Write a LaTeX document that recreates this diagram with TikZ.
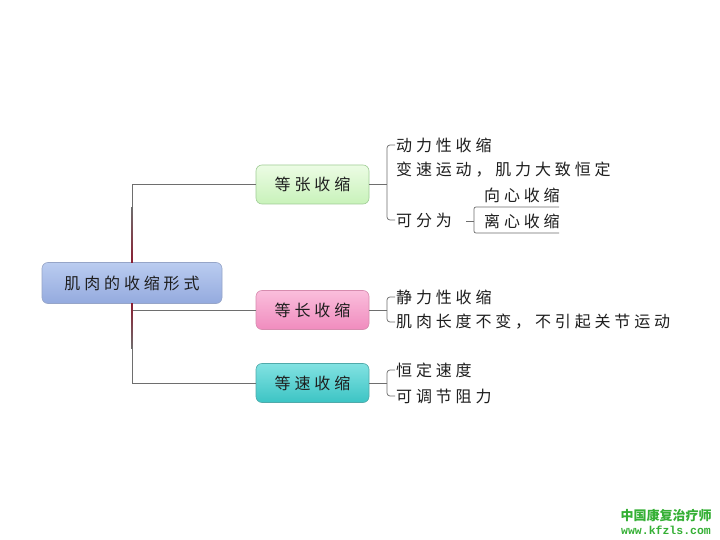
\documentclass[tikz,border=0pt]{standalone}
\usepackage{fontspec}
\newfontfamily\cjk{Noto Sans CJK SC}[LetterSpace=24]
\newfontfamily\cjkplain{Noto Sans CJK SC}
\newfontfamily\wmono{Liberation Mono}
\usetikzlibrary{calc}
\definecolor{txt}{HTML}{1E1E1E}
\definecolor{lin}{HTML}{6E6E6E}
\definecolor{trunkred}{HTML}{8A1E32}
\definecolor{wm}{HTML}{35B035}
\tikzset{
  topic/.style={rounded corners=6pt, minimum width=113pt, minimum height=39pt, inner sep=0pt,
    font=\cjk\fontsize{16}{18}\selectfont, text=txt, line width=0.6pt},
  leaf/.style={anchor=west, inner sep=0pt, font=\cjk\fontsize{16}{18}\selectfont, text=txt},
  conn/.style={draw=lin, line width=0.9pt},
  brk/.style={draw=lin, line width=0.7pt, rounded corners=3pt},
}
\begin{document}
\begin{tikzpicture}[x=1pt,y=-1pt]
\useasboundingbox[fill=white] (0,0) rectangle (720,540);
% main topic
\node[topic, minimum width=180pt, minimum height=41pt, top color={rgb,255:red,186;green,204;blue,240}, bottom color={rgb,255:red,148;green,170;blue,222}, draw={rgb,255:red,150;green,165;blue,200}] (root) at (132,283) {肌肉的收缩形式};
% subtopics
\node[topic, top color={rgb,255:red,236;green,252;blue,228}, bottom color={rgb,255:red,200;green,242;blue,186}, draw={rgb,255:red,160;green,205;blue,150}] (zh) at (312.5,184.5) {等张收缩};
\node[topic, top color={rgb,255:red,250;green,190;blue,220}, bottom color={rgb,255:red,240;green,140;blue,190}, draw={rgb,255:red,215;green,140;blue,175}] (zc) at (312.5,310) {等长收缩};
\node[topic, top color={rgb,255:red,130;green,226;blue,226}, bottom color={rgb,255:red,60;green,196;blue,196}, draw={rgb,255:red,80;green,170;blue,170}] (zs) at (312.5,383) {等速收缩};
% trunk connectors
\draw[conn] (root.north) |- (zh.west);
\draw[conn] (root.south) |- (zc.west);
\draw[conn] (root.south) |- (zs.west);
\shade[top color=lin, bottom color=trunkred] ($(root.north)+(-0.9,-55)$) rectangle ($(root.north)+(0.9,0)$);
\shade[top color=trunkred, bottom color=lin] ($(root.south)+(-0.9,0)$) rectangle ($(root.south)+(0.9,45)$);
% leaves of 等张收缩
\node[leaf] (a1) at (396,145) {动力性收缩};
\node[leaf] (a2) at (396,170) {变速运动，肌力大致恒定};
\node[leaf] (a3) at (396,220) {可分为};
\coordinate (ja) at (387,184.5);
\draw[conn] (zh.east) -- (ja);
\draw[brk] ($(a1.west)+(-1,0)$) -| (ja);
\draw[brk] ($(a3.west)+(-1,0)$) -| (ja);
\node[leaf] (b1) at (484,195) {向心收缩};
\node[leaf] (b2) at (484,221) {离心收缩};
\coordinate (jb) at (474,221);
\coordinate (sb) at (466,221);
\draw[conn] (sb) -- (jb);
\draw[brk, rounded corners=2pt] (559,207) -| (jb) |- (559,233);
% leaves of 等长收缩
\node[leaf] (c1) at (396,297) {静力性收缩};
\node[leaf] (c2) at (396,322) {肌肉长度不变，不引起关节运动};
\coordinate (jc) at (387,310);
\draw[conn] (zc.east) -- (jc);
\draw[brk] ($(c1.west)+(-1,0)$) -| (jc);
\draw[brk] ($(c2.west)+(-1,0)$) -| (jc);
% leaves of 等速收缩
\node[leaf] (d1) at (396,370) {恒定速度};
\node[leaf] (d2) at (396,396) {可调节阻力};
\coordinate (jd) at (387,383);
\draw[conn] (zs.east) -- (jd);
\draw[brk] ($(d1.west)+(-1,0)$) -| (jd);
\draw[brk] ($(d2.west)+(-1,0)$) -| (jd);
% watermark
\node[text=wm, inner sep=0pt, font=\cjkplain\bfseries\fontsize{13}{14}\selectfont] (w1) at (666,516) {中国康复治疗师};
\node[text=wm, inner sep=0pt, font=\wmono\bfseries\fontsize{11.5}{13}\selectfont] (w2) at (666,530) {www.kfzls.com};
\end{tikzpicture}
\end{document}
